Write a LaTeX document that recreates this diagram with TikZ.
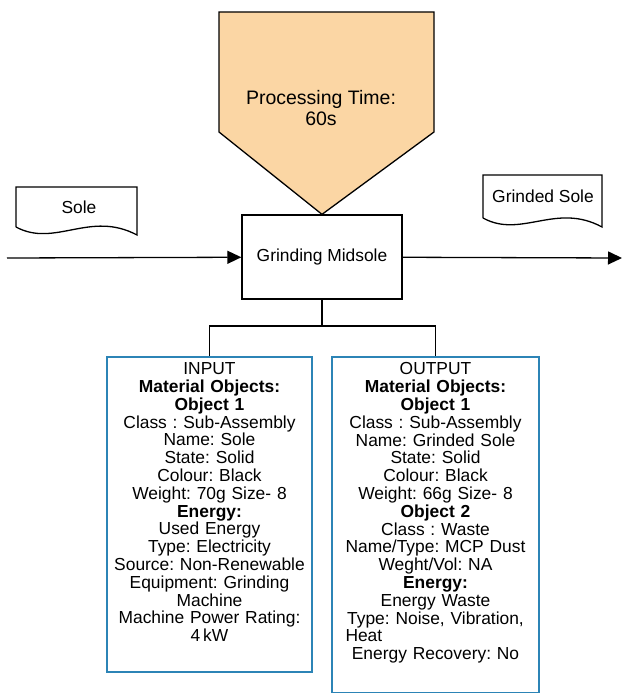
\documentclass[tikz,border=0pt]{standalone}
\usepackage{fontspec}
\setmainfont{Liberation Sans}
\frenchspacing
\definecolor{PeachFill}{RGB}{251,214,164}
\definecolor{InfoBlue}{RGB}{44,132,182}
\usepackage{tikz}
\usetikzlibrary{arrows.meta, positioning, calc}

\begin{document}
\begin{tikzpicture}[x=1pt, y=-1pt,
    flow/.style={-{Triangle[length=14pt,width=13pt]}, line width=1.3pt},
    tie/.style={line width=1.3pt},
    procbox/.style={draw, line width=1.3pt, minimum width=160pt, minimum height=84pt,
                    font=\fontsize{17.4}{17.8}\selectfont},
    infobox/.style={draw=InfoBlue, line width=1.6pt, anchor=north},
    infotext/.style={anchor=north, align=center, inner sep=0pt,
                     font=\fontsize{17.4}{17.8}\selectfont}]
      \useasboundingbox (0,0) rectangle (623,693);
      % process and time
      \node[procbox] (proc) at (322,257) {Grinding Midsole};
      \draw[fill=PeachFill, line width=1.3pt]
            (219,12) -- (434,12) -- (434,132) -- (proc.north) -- (219,132) -- cycle;
      \node[align=center, font=\fontsize{19.5}{21}\selectfont] (ptime) at (321,108)
            {Processing Time:\\60s};
      % documents
      \draw[line width=1.3pt, fill=white] (16,227) -- (16,187) -- (137,187) -- (137,235)
            .. controls (90,210) and (55,248) .. (16,227);
      \node[font=\fontsize{17.4}{17.8}\selectfont] (sole) at (79,207) {Sole};
      \draw[line width=1.3pt, fill=white] (483,218) -- (483,175) -- (602,175) -- (602,227)
            .. controls (556,202) and (521,239) .. (483,218);
      \node[font=\fontsize{17.4}{17.8}\selectfont] (grinded) at (543,196) {Grinded Sole};
      % material flow
      \coordinate (src) at (7,258);
      \coordinate (snk) at (622,258);
      \draw[flow] (src) -- (proc);
      \draw[flow] (proc) -- (snk);
      % input / output boxes
      \node[infobox, minimum width=205pt, minimum height=315pt] (inbox) at (209.5,356) {};
      \node[infobox, minimum width=207pt, minimum height=336pt] (outbox) at (435.5,356) {};
      \node[infotext, text width=195pt] (intext) at ($(inbox.north)+(0,6.5)$)
            {INPUT\\
             \textbf{Material Objects:}\\
             \textbf{Object 1}\\
             Class : Sub-Assembly\\
             Name: Sole\\
             State: Solid\\
             Colour: Black\\
             Weight: 70g Size- 8\\
             \textbf{Energy:}\\
             Used Energy\\
             Type: Electricity\\
             Source: Non-Renewable\\
             Equipment: Grinding\\
             Machine\\
             Machine Power Rating:\\
             4\,kW};
      \node[infotext, text width=180pt] (outtext) at ($(outbox.north)+(0,6.5)$)
            {OUTPUT\\
             \textbf{Material Objects:}\\
             \textbf{Object 1}\\
             Class : Sub-Assembly\\
             Name: Grinded Sole\\
             State: Solid\\
             Colour: Black\\
             Weight: 66g Size- 8\\
             \textbf{Object 2}\\
             Class : Waste\\
             Name/Type: MCP Dust\\
             Weght/Vol: NA\\
             \textbf{Energy:}\\
             Energy Waste\\
             Type: Noise, Vibration,\\
             Heat\hfill\null\\
             Energy Recovery: No};
      % tree connector
      \coordinate (split) at (322,326);
      \draw[tie] (proc.south) -- (split);
      \draw[tie] (split) -| (inbox.north);
      \draw[tie] (split) -| (outbox.north);
    \end{tikzpicture}
\end{document}
